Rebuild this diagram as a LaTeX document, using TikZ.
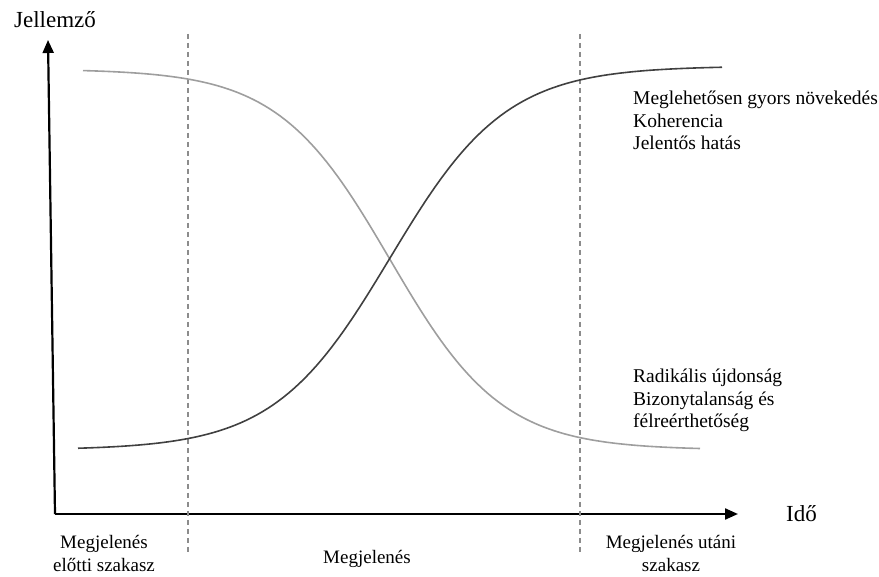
\documentclass[tikz,border=0pt]{standalone}
\usepackage{fontspec}
\setmainfont{Liberation Serif}
\usetikzlibrary{arrows.meta}
\tikzset{every node/.style={inner sep=0pt,font=\fontsize{19.5}{22.5}\selectfont},line cap=round,line join=round}
\tikzset{
  axis/.style={line width=2.2pt,-{Triangle[length=13pt,width=11pt]}},
  phase/.style={line width=1.4pt,color=black!45,line cap=butt,dash pattern=on 5pt off 4pt},
  falling/.style={line width=1.6pt,color=black!38},
  rising/.style={line width=1.6pt,color=black!75},
  axislabel/.style={font=\fontsize{23}{26}\selectfont},
  phaselabel/.style={align=center,anchor=base,font=\fontsize{19}{22.5}\selectfont},
  sidelabel/.style={align=left,anchor=base west}
}

\begin{document}
\begin{tikzpicture}[x=1pt,y=-1pt]
  \path[use as bounding box] (0,0) rectangle (879,577);
  % axes
  \coordinate (origin) at (55,514);
  \coordinate (ytip) at (48,40);
  \coordinate (xtip) at (738,514);
  \draw[axis] (origin) -- (ytip);
  \draw[axis] (origin) -- (xtip);
  \node[axislabel,anchor=base] (jellemzo) at (55,28) {Jellemző};
  \node[axislabel,anchor=base west] (ido) at (786,521) {Idő};
  % phase borders
  \coordinate (b1top) at (188,34);
  \coordinate (b1bot) at (188,552);
  \coordinate (b2top) at (580,34);
  \coordinate (b2bot) at (580,552);
  \draw[phase] (b1top) -- (b1bot);
  \draw[phase] (b2top) -- (b2bot);
  % curves
  \draw[falling] plot[domain=83:700,samples=120] (\x,{69+381/(1+exp(-(\x-390)/56))});
  \draw[rising] plot[domain=78:722,samples=120] (\x,{450-384/(1+exp(-(\x-390)/58))});
  % texts (base = last line)
  \node[sidelabel] (felso) at (633,150) {Meglehetősen gyors növekedés\\Koherencia\\Jelentős hatás};
  \node[sidelabel] (also) at (633,428) {Radikális újdonság\\Bizonytalanság és\\félreérthetőség};
  \node[phaselabel] (elotti) at (104,571) {Megjelenés\\előtti szakasz};
  \node[phaselabel] (megj) at (367,563) {Megjelenés};
  \node[phaselabel] (utani) at (671,571) {Megjelenés utáni\\szakasz};
\end{tikzpicture}
\end{document}
